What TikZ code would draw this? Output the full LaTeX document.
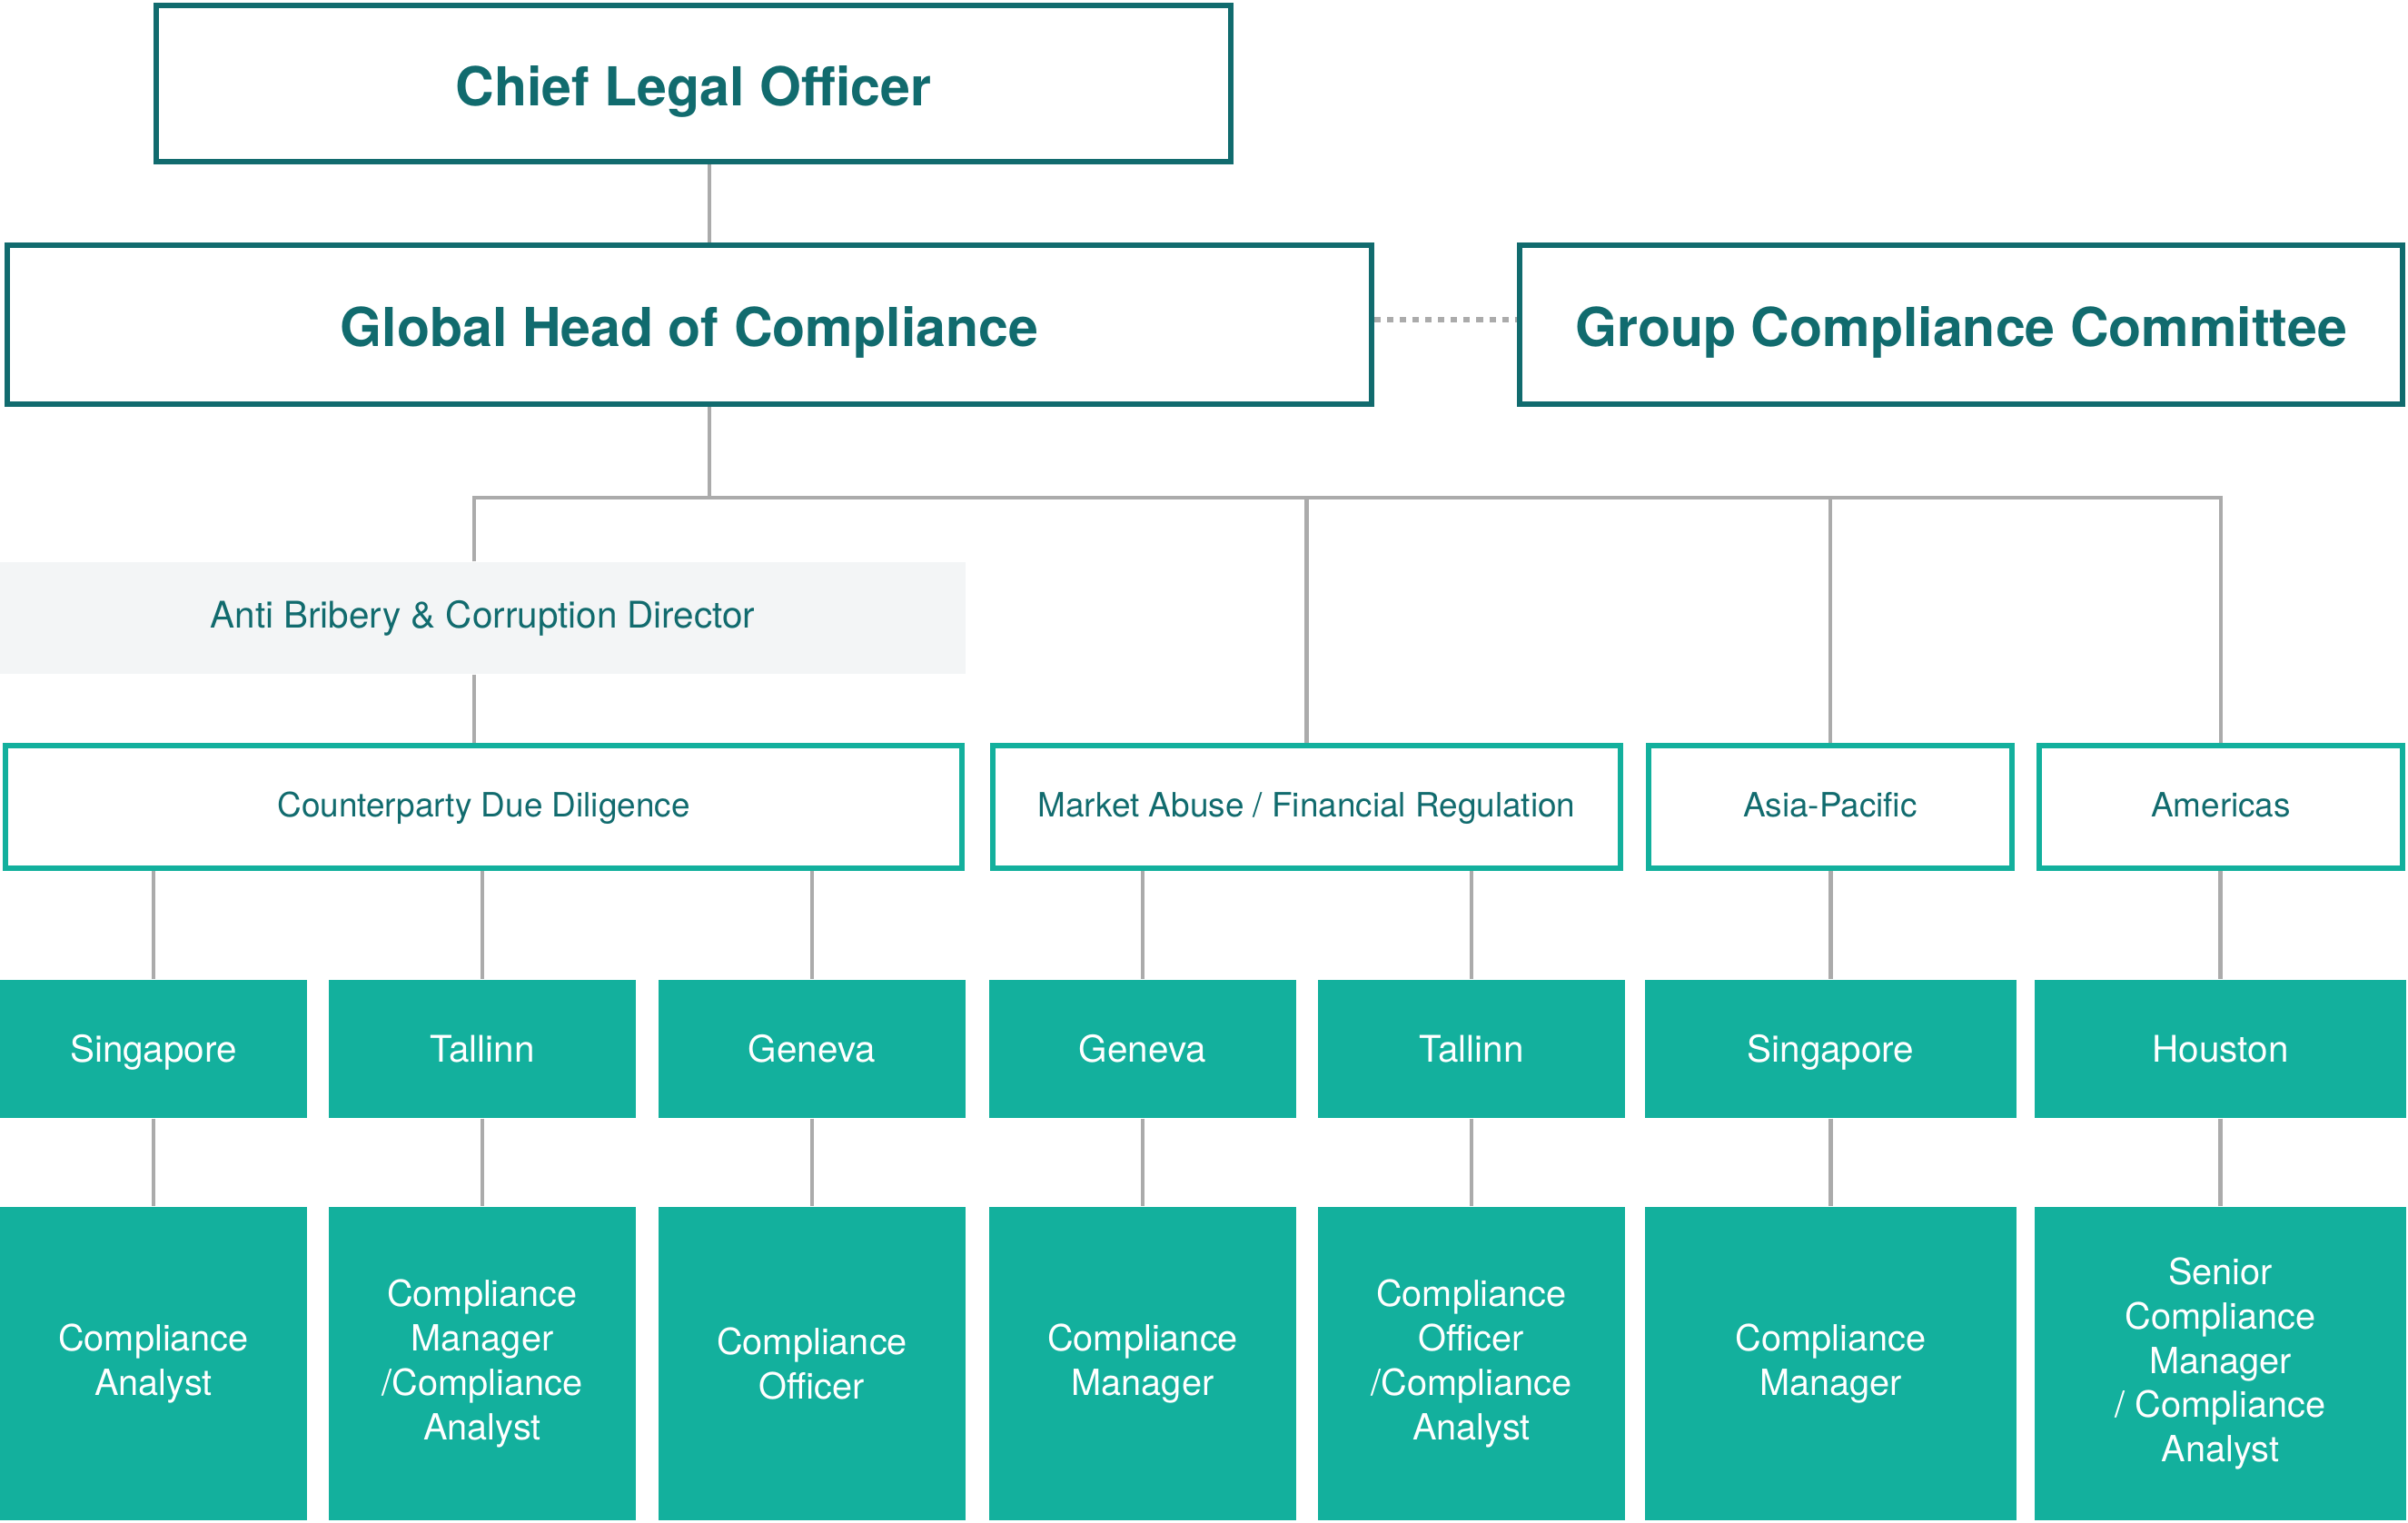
\documentclass[tikz,border=0pt]{standalone}
\usepackage{fontspec}
\setmainfont{TeX Gyre Heros}
\usetikzlibrary{positioning,calc}
\definecolor{ink}{HTML}{116B6E}
\definecolor{accent}{HTML}{13B09D}
\definecolor{muted}{HTML}{ABABAB}
\definecolor{paper}{HTML}{F3F5F6}
\tikzset{
  link/.style={draw=muted,line width=1.2pt},
  assoc/.style={draw=muted,line width=1.5pt,dash pattern=on 2pt off 2pt},
  headbox/.style={draw=ink,line width=1.7pt,fill=white,text=ink,inner sep=0pt,
    text height=.48cm,text depth=0pt,font=\bfseries\fontsize{16.8}{20}\selectfont},
  unitbox/.style={draw=accent,line width=1.7pt,fill=white,text=ink,inner sep=0pt,
    minimum height=1.35cm,text height=.22cm,text depth=0pt,font=\fontsize{10.5}{13}\selectfont},
  dirbox/.style={fill=paper,text=ink,inner sep=0pt,font=\fontsize{11.5}{14}\selectfont},
  sitebox/.style={fill=accent,text=white,inner sep=0pt,minimum height=1.52cm,
    text height=.29cm,text depth=0pt,font=\fontsize{11.5}{14}\selectfont},
  rolebox/.style={fill=accent,text=white,inner sep=0pt,align=center,minimum height=3.45cm,
    font=\fontsize{11.3}{13.9}\selectfont}}
\begin{document}
\begin{tikzpicture}
\useasboundingbox (0,0) rectangle (26.51,-16.76);
% top of the chart
\node[headbox,minimum width=11.83cm,minimum height=1.72cm] (clo) at (7.635,-.92) {Chief Legal Officer};
\node[headbox,minimum width=15.02cm,minimum height=1.75cm] (ghc) at (7.59,-3.575) {Global Head of Compliance};
\node[headbox,minimum width=9.72cm,minimum height=1.75cm] (gcc) at (21.59,-3.575) {Group Compliance Committee};
\draw[assoc] ([yshift=.055cm]ghc.east) -- ([yshift=.055cm]gcc.west);
\coordinate (hub) at (7.81,-5.48);
\coordinate (abcx) at (5.22,-5.48);
\draw[link] (clo.south -| hub) -- (ghc.north -| hub);
\draw[link] (ghc.south -| hub) -- (hub);
\node[dirbox,minimum width=10.63cm,minimum height=1.23cm] (abc) at (5.315,-6.805) {Anti Bribery \& Corruption Director};
% teams
\node[unitbox,minimum width=10.53cm] (cdd) at (5.325,-8.885) {Counterparty Due Diligence};
\node[unitbox,minimum width=6.91cm] (maf) at (14.385,-8.885) {Market Abuse / Financial Regulation};
\node[unitbox,minimum width=4.0cm] (apac) at (20.15,-8.885) {Asia-Pacific};
\node[unitbox,minimum width=4.0cm] (amer) at (24.45,-8.885) {Americas};
\draw[link] (abc.north -| abcx) -- (abcx) -- (amer.north |- hub) -- (amer.north);
\draw[link] (abc.south -| abcx) -- (cdd.north -| abcx);
\draw[link] (maf.north |- hub) -- (maf.north);
\draw[link] (apac.north |- hub) -- (apac.north);
% sites and roles
\foreach \i/\x/\w/\u/\site/\role in {
  1/1.69/3.38/cdd/Singapore/{Compliance\\Analyst},
  2/5.31/3.38/cdd/Tallinn/{Compliance\\Manager\\/Compliance\\Analyst},
  3/8.94/3.38/cdd/Geneva/{Compliance\\Officer},
  4/12.58/3.38/maf/Geneva/{Compliance\\Manager},
  5/16.20/3.38/maf/Tallinn/{Compliance\\Officer\\/Compliance\\Analyst},
  6/20.155/4.09/apac/Singapore/{Compliance\\Manager},
  7/24.445/4.09/amer/Houston/{Senior\\Compliance\\Manager\\/ Compliance\\Analyst}}{
\node[sitebox,minimum width=\w cm] (site\i) at (\x,-11.55) {\site};
\node[rolebox,minimum width=\w cm] (role\i) at (\x,-15.015) {\role};
\draw[link] (\u.south -| site\i) -- (site\i.north);
\draw[link] (site\i.south) -- (role\i.north);}
\end{tikzpicture}
\end{document}
